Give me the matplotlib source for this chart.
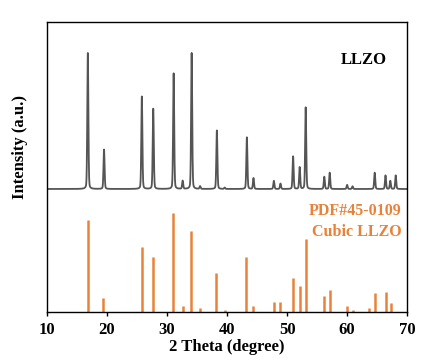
import numpy as np
import matplotlib.pyplot as plt

plt.rcParams['font.family'] = 'Liberation Serif'
plt.rcParams['font.weight'] = 'bold'

# %% Data

# measured LLZO pattern: peak positions (2theta) and heights (max = 100)
peak_pos = [16.8, 19.5, 25.8, 27.7, 31.1, 32.6, 34.1, 35.5, 38.3, 39.6, 43.3, 44.4,
            47.8, 48.9, 51.0, 52.1, 53.1, 56.2, 57.1, 60.0, 60.9, 64.6, 66.4, 67.2, 68.1]
peak_int = [100, 29, 68, 59, 85, 6, 100, 2, 43, 1, 38, 8,
            6, 4, 24, 16, 60, 9, 12, 3, 2, 12, 10, 6, 10]

# PDF#45-0109 reference lines (max = 100)
ref_pos = [16.8, 19.4, 25.8, 27.6, 31.0, 32.6, 34.0, 35.5, 38.2, 39.6, 43.2, 44.4,
           47.8, 48.8, 51.0, 52.1, 53.2, 56.2, 57.1, 60.0, 60.9, 63.7, 64.6, 66.4, 67.3]
ref_int = [93, 14, 66, 56, 100, 6, 82, 4, 39, 2, 56, 6,
           10, 10, 34, 26, 74, 16, 22, 6, 2, 4, 19, 20, 9]

# %% Build profile (pseudo-Voigt peaks)

two_theta = np.linspace(10, 70, 3001)
profile = np.zeros_like(two_theta)
for p, h in zip(peak_pos, peak_int):
    d = two_theta - p
    gauss = np.exp(-0.5 * (d / 0.09) ** 2)
    lor = 1 / (1 + (d / 0.1) ** 2)
    profile += h * (0.75 * gauss + 0.25 * lor)

pattern_offset = 0.424
pattern_scale = 0.469 / 100
ref_scale = 0.341 / 100

# %% Plot

fig = plt.figure(figsize=(4.29, 3.64), dpi=100)
ax = fig.add_axes([0.1096, 0.143, 0.8394, 0.7966])

ax.plot(two_theta, pattern_offset + profile * pattern_scale, color='#555555', lw=1.3)
ax.vlines(ref_pos, 0, np.array(ref_int) * ref_scale, color='#E8823A', lw=1.8)

ax.text(0.88, 0.869, 'LLZO', transform=ax.transAxes, ha='center', va='center',
        fontsize=12, fontweight='bold', color='black')
ax.text(0.985, 0.349, 'PDF#45-0109', transform=ax.transAxes, ha='right', va='center',
        fontsize=11.5, fontweight='bold', color='#E8823A')
ax.text(0.985, 0.277, 'Cubic LLZO', transform=ax.transAxes, ha='right', va='center',
        fontsize=11.5, fontweight='bold', color='#E8823A')

ax.set_xlim(10, 70)
ax.set_ylim(0, 1)
ax.set_xticks(range(10, 71, 10))
ax.set_yticks([])
ax.tick_params(axis='x', direction='out', length=3, width=1, labelsize=12, pad=4)
for lab in ax.get_xticklabels():
    lab.set_fontweight('bold')
for s in ax.spines.values():
    s.set_linewidth(1.0)

ax.set_xlabel('2 Theta (degree)', fontsize=12, fontweight='bold', labelpad=1)
ax.set_ylabel('Intensity (a.u.)', fontsize=12, fontweight='bold')
ax.yaxis.set_label_coords(-0.052, 0.569)

fig.savefig('out.png', dpi=100)
